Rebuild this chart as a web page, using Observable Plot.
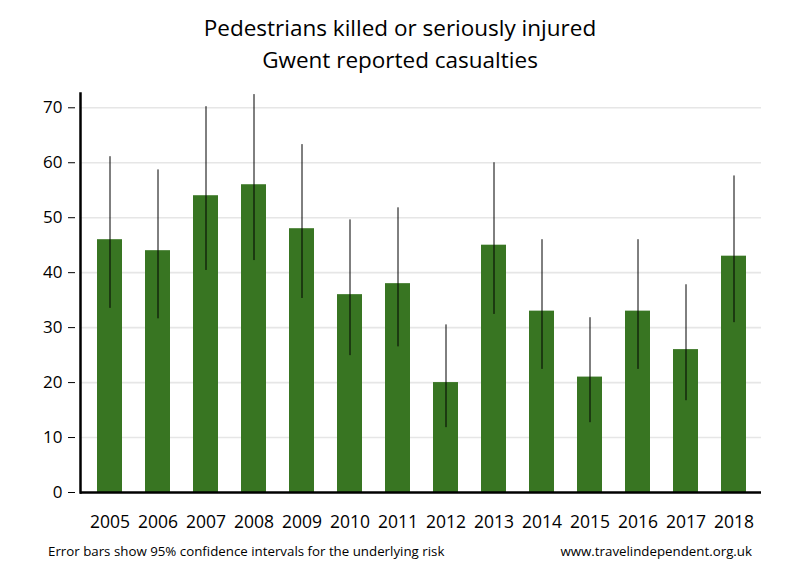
<!DOCTYPE html>
<html>
<head>
<meta charset="utf-8">
<script src="https://cdn.jsdelivr.net/npm/d3@7"></script>
<script src="https://cdn.jsdelivr.net/npm/@observablehq/plot@0.6"></script>
<style>
  html, body { margin: 0; padding: 0; background: #fff; }
  #wrap { position: relative; width: 800px; height: 580px; font-family: "Open Sans", "Noto Sans", sans-serif; color: #000; }
  .title { position: absolute; left: 0; width: 800px; text-align: center; font-size: 22.5px; line-height: 1; }
  .foot { position: absolute; font-size: 13.3px; line-height: 1; }
  #chart { position: absolute; left: 0; top: 0; }
</style>
</head>
<body>
<div id="wrap">
  <div id="chart"></div>
  <div class="title" style="top:17px">Pedestrians killed or seriously injured</div>
  <div class="title" style="top:49px">Gwent reported casualties</div>
  <div class="foot" style="left:48px; top:545px">Error bars show 95% confidence intervals for the underlying risk</div>
  <div class="foot" style="right:48px; top:545px">www.travelindependent.org.uk</div>
</div>
<script>
const years = ["2005","2006","2007","2008","2009","2010","2011","2012","2013","2014","2015","2016","2017","2018"];
const casualties = [46, 44, 54, 56, 48, 36, 38, 20, 45, 33, 21, 33, 26, 43];
const lower = [33.5, 31.6, 40.4, 42.2, 35.3, 24.9, 26.5, 11.8, 32.4, 22.4, 12.7, 22.4, 16.7, 30.9];
const upper = [61.1, 58.7, 70.2, 72.4, 63.3, 49.6, 51.8, 30.5, 60.0, 46.0, 31.8, 46.0, 37.8, 57.6];
const yTicks = [0, 10, 20, 30, 40, 50, 60, 70];

const data = years.map((y, i) => ({year: y, value: casualties[i], lo: lower[i], hi: upper[i]}));

const plot = Plot.plot({
  width: 800,
  height: 580,
  marginLeft: 80,
  marginRight: 39,
  marginTop: 93,
  marginBottom: 88,
  style: {fontFamily: "'Open Sans', 'Noto Sans', sans-serif", color: "#000", background: "transparent"},
  x: {domain: years, range: [85, 757], paddingInner: 0.48, paddingOuter: 0.24, label: null},
  y: {domain: [0, 72.6], label: null},
  marks: [
    Plot.ruleY(yTicks.filter(d => d > 0), {stroke: "#e6e6e6", strokeWidth: 1.6}),
    Plot.barY(data, {x: "year", y: "value", fill: "#387522"}),
    Plot.ruleX(data, {x: "year", y1: "lo", y2: "hi", stroke: "#000", strokeWidth: 1}),
    Plot.axisX({tickSize: 0, tickPadding: 23, fontSize: 17.5}),
    Plot.axisY({ticks: yTicks, tickSize: 7, tickPadding: 6, fontSize: 17, tickFormat: d3.format("d"), dx: -5}),
    Plot.frame({anchor: "left", stroke: "#000", strokeWidth: 2.5}),
    Plot.ruleY([0], {stroke: "#000", strokeWidth: 2.5})
  ]
});
document.getElementById("chart").appendChild(plot);
</script>
</body>
</html>
